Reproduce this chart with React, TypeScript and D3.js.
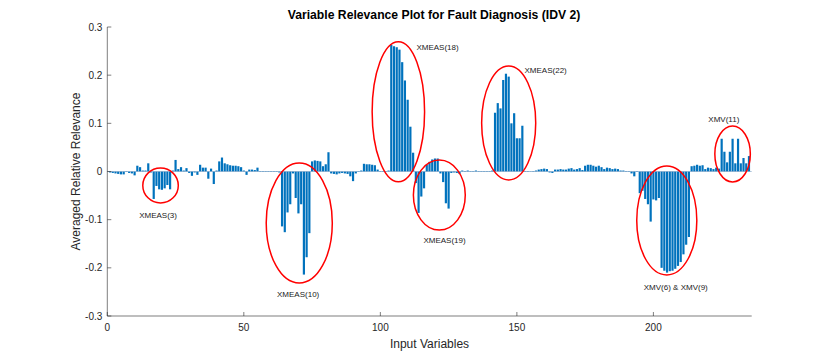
import React from 'react';
import * as d3 from 'd3';

// averaged relative relevance, one value per input variable (1..235)
const relevance = [
  -0.002, -0.003, -0.004, -0.005, -0.006, -0.006, -0.001, -0.003, -0.004, -0.008,
  0.012, 0.009, 0.002, 0.002, 0.017, -0.002, -0.057, -0.03, -0.037, -0.038,
  -0.035, -0.028, -0.037, 0.002, 0.024, 0.005, 0.009, 0.002, 0.007, -0.003,
  -0.009, -0.002, -0.007, 0.014, 0.008, 0.008, -0.015, 0.006, -0.026, 0.002,
  0.021, 0.029, 0.017, 0.015, 0.013, 0.012, 0.012, 0.011, 0.009, 0.002,
  -0.007, 0.004, 0.004, 0.003, 0.008, 0.001, 0.001, -0.001, 0.001, -0.001,
  0.001, -0.001, -0.002, -0.114, -0.126, -0.085, -0.068, -0.004, -0.055, -0.087,
  -0.068, -0.214, -0.178, -0.128, 0.021, 0.023, 0.022, 0.021, 0.011, 0.015,
  0.04, -0.004, -0.005, -0.006, -0.004, -0.003, -0.004, -0.005, -0.01, -0.02,
  -0.004, 0.001, 0.002, 0.016, 0.015, 0.015, 0.014, 0.013, 0.004, 0.001,
  0.001, 0.001, 0.002, 0.263, 0.26, 0.258, 0.253, 0.227, 0.189, 0.149,
  0.093, 0.039, -0.024, -0.086, -0.052, -0.035, 0.014, 0.02, 0.025, 0.027,
  0.027, -0.004, -0.022, -0.066, -0.077, -0.003, -0.002, -0.003, -0.005, 0.002,
  0.001, 0.002, 0.001, 0.001, 0.002, 0.001, 0.001, 0.001, 0.001, 0.001,
  0.002, 0.122, 0.142, 0.131, 0.19, 0.203, 0.197, 0.1, 0.121, 0.069,
  0.069, 0.095, 0.001, 0.001, 0.0005, 0.001, 0.002, 0.004, 0.005, 0.006,
  0.005, -0.002, -0.003, 0.004, 0.004, 0.005, 0.004, 0.004, 0.006, 0.007,
  0.004, 0.005, 0.007, 0.003, 0.012, 0.014, 0.014, 0.012, 0.01, 0.012,
  0.009, 0.005, 0.008, 0.007, 0.005, 0.006, 0.005, 0.002, 0.002, 0.001,
  0.001, -0.004, -0.01, -0.001, -0.045, -0.04, -0.057, -0.068, -0.104, -0.058,
  -0.06, -0.055, -0.2, -0.206, -0.21, -0.207, -0.206, -0.202, -0.196, -0.188,
  -0.172, -0.152, -0.136, 0.011, 0.012, 0.014, 0.012, 0.013, 0.005, 0.008,
  0.007, 0.005, 0.008, 0.006, 0.068, 0.041, 0.019, 0.041, 0.068, 0.017,
  0.068, 0.017, 0.028, 0.017, 0.032,
];

const xTicks = [0, 50, 100, 150, 200];
const yTicks = [-0.3, -0.2, -0.1, 0, 0.1, 0.2, 0.3];

// highlighted groups: ellipse centre / radii and label anchor, in data units
const groupNames = ['XMEAS(3)', 'XMEAS(10)', 'XMEAS(18)', 'XMEAS(19)', 'XMEAS(22)', 'XMV(6) & XMV(9)', 'XMV(11)'];
const groupCenterX = [19.5, 70.3, 106.6, 121.6, 147, 204.9, 229];
const groupCenterY = [-0.029, -0.107, 0.124, -0.049, 0.1007, -0.1017, 0.0363];
const groupRadiusX = [6.5, 12.1, 9.6, 9.5, 9.9, 11, 6.5];
const groupRadiusY = [0.0363, 0.1246, 0.1453, 0.0727, 0.1183, 0.1131, 0.058];
const labelX = [18.6, 69.9, 113.2, 123.5, 152.8, 208.2, 225.8];
const labelY = [-0.09, -0.254, 0.258, -0.142, 0.2107, -0.24, 0.109];
const labelAnchor = ['middle', 'middle', 'start', 'middle', 'start', 'middle', 'middle'];

export default function App() {
  const width = 830;
  const height = 356;
  const margin = { top: 27, right: 78.3, bottom: 40, left: 107.3 };
  const innerWidth = width - margin.left - margin.right;
  const innerHeight = height - margin.top - margin.bottom;

  const variables = relevance.map((_, i) => i + 1);

  const xScale = d3.scaleLinear().domain([0, variables.length + 1]).range([0, innerWidth]);
  const yScale = d3.scaleLinear().domain([-0.3, 0.3]).range([innerHeight, 0]);
  const barW = (xScale(1) - xScale(0)) * 0.8;

  const axisColor = '#262626';
  const font = 'Liberation Sans, Arial, Helvetica, sans-serif';

  return (
    <svg width={width} height={height} style={{ position: 'absolute', left: 0, top: 0 }} fontFamily={font}>
      <rect width={width} height={height} fill="#fff" />
      <text x={434} y={19} textAnchor="middle" fontSize={12.2} fontWeight="bold" fill="#000">
        Variable Relevance Plot for Fault Diagnosis (IDV 2)
      </text>
      <g transform={`translate(${margin.left},${margin.top})`}>
        {variables.map((v, i) => {
          const val = relevance[i];
          const y0 = yScale(0);
          const y1 = yScale(val);
          return (
            <rect
              key={v}
              x={xScale(v) - barW / 2}
              y={Math.min(y0, y1)}
              width={barW}
              height={Math.max(Math.abs(y1 - y0), 0.3)}
              fill="#0072BD"
            />
          );
        })}
        <line x1={0} x2={innerWidth} y1={yScale(0)} y2={yScale(0)} stroke="#7a9fc2" strokeWidth={0.6} />

        {groupNames.map((name, i) => (
          <g key={name}>
            <ellipse
              cx={xScale(groupCenterX[i])}
              cy={yScale(groupCenterY[i])}
              rx={xScale(groupRadiusX[i]) - xScale(0)}
              ry={yScale(0) - yScale(groupRadiusY[i])}
              fill="none"
              stroke="#ff0000"
              strokeWidth={1.5}
            />
            <text
              x={xScale(labelX[i])}
              y={yScale(labelY[i])}
              dy="0.35em"
              textAnchor={labelAnchor[i]}
              fontSize={8}
              fill="#1a1a1a"
            >
              {name}
            </text>
          </g>
        ))}

        {/* axes */}
        <line x1={0} x2={0} y1={0} y2={innerHeight} stroke={axisColor} strokeWidth={0.6} />
        <line x1={0} x2={innerWidth} y1={innerHeight} y2={innerHeight} stroke={axisColor} strokeWidth={0.6} />
        {yTicks.map(t => (
          <g key={t} transform={`translate(0,${yScale(t)})`}>
            <line x1={0} x2={4} stroke={axisColor} strokeWidth={0.6} />
            <text x={-5} dy="0.35em" textAnchor="end" fontSize={10} fill={axisColor}>
              {t === 0 ? '0' : t.toFixed(1)}
            </text>
          </g>
        ))}
        {xTicks.map(t => (
          <g key={t} transform={`translate(${xScale(t)},${innerHeight})`}>
            <line y1={0} y2={-4} stroke={axisColor} strokeWidth={0.6} />
            <text y={15} textAnchor="middle" fontSize={10} fill={axisColor}>
              {t}
            </text>
          </g>
        ))}
        <text x={innerWidth / 2} y={innerHeight + 32} textAnchor="middle" fontSize={12} fill={axisColor}>
          Input Variables
        </text>
        <text
          transform={`rotate(-90)`}
          x={-innerHeight / 2}
          y={-27}
          textAnchor="middle"
          fontSize={12}
          fill={axisColor}
        >
          Averaged Relative Relevance
        </text>
      </g>
    </svg>
  );
}
